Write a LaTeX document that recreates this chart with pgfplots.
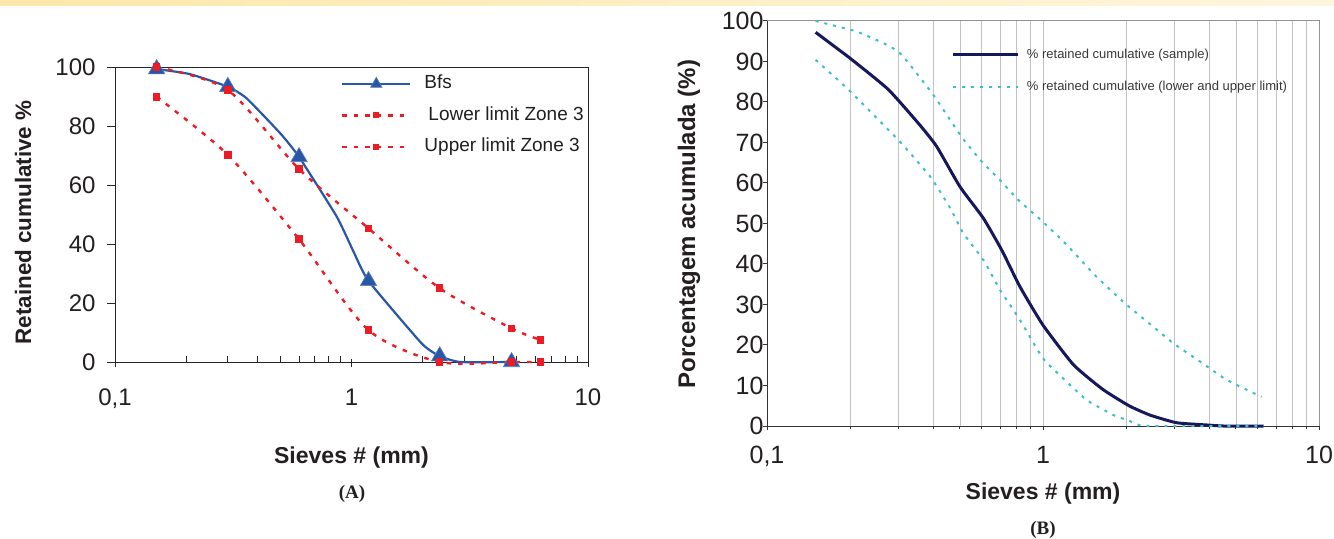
\documentclass[border=0pt]{standalone}
\usepackage{fontspec}
\setmainfont{Liberation Sans}
\newfontfamily\serifb{Liberation Serif}
\usepackage{pgfplots}
\pgfplotsset{compat=1.18}
\definecolor{bfsblue}{RGB}{40,86,168}
\definecolor{limred}{RGB}{237,28,36}
\definecolor{navy}{RGB}{22,24,92}
\definecolor{cyanl}{RGB}{60,192,200}
\definecolor{txt}{RGB}{35,31,32}
\definecolor{bandL}{RGB}{253,231,170}
\definecolor{bandR}{RGB}{255,246,222}
\definecolor{gridc}{RGB}{195,195,195}
\begin{document}
\begin{tikzpicture}
\path[use as bounding box, fill=white] (0bp,0bp) rectangle (1334bp,539bp);
\shade[left color=bandL, right color=bandR] (0bp,533bp) rectangle (1334bp,539bp);

% ---------------- (A) ----------------
\begin{axis}[
  at={(115bp,177bp)}, anchor=south west,
  scale only axis, width=473bp, height=295bp,
  xmode=log, xmin=0.1, xmax=10, ymin=0, ymax=100,
  clip=false,
  axis line style={draw=black!85, line width=0.9bp},
  xtick={0.1,1,10}, xticklabels={{0,1},1,10},
  minor xtick={0.2,0.3,0.4,0.5,0.6,0.7,0.8,0.9,2,3,4,5,6,7,8,9},
  ytick={0,20,40,60,80,100}, yticklabels={0,20,40,60,80,100},
  tick align=outside, xtick pos=bottom, ytick pos=left,
  major tick length=8bp, minor tick length=6bp,
  tick style={draw=black!85, line width=0.9bp},
  major x tick style={yshift=3bp},
  minor x tick style={yshift=6bp},
  ticklabel style={font=\fontsize{24bp}{28bp}\selectfont, text=txt},
  xticklabel style={yshift=-15bp},
  yticklabel style={xshift=-8bp},
  xlabel={Sieves \# (mm)},
  xlabel style={at={(rel axis cs:0.5,0)}, anchor=center, yshift=-96bp,
    font=\bfseries\fontsize{23bp}{27bp}\selectfont, text=txt},
  ylabel={Retained cumulative \%},
  ylabel style={at={(axis description cs:-0.1945,0.473)}, anchor=center,
    font=\bfseries\fontsize{22.4bp}{26bp}\selectfont, text=txt},
  legend style={draw=none, fill=none, at={(axis description cs:0.478,0.973)}, anchor=north west,
    inner sep=0pt, outer sep=0pt, row sep=13.5bp, column sep=13bp,
    font=\fontsize{19bp}{22bp}\selectfont, text=txt,
    nodes={inner sep=0pt, text height=14bp, text depth=4bp}},
  legend cell align=left,
  legend image code/.code={\draw[#1, mark indices={2}, every mark/.append style={scale=0.7}] plot coordinates {(0bp,0bp) (34bp,0bp) (68bp,0bp)};},
]
\addplot[color=bfsblue, line width=2.2bp, smooth, tension=0.3,
  mark=triangle*, mark size=9.5bp, mark indices={1,3,6,9,11,13},
  mark options={fill=bfsblue, draw=bfsblue!75!white, line width=0.6bp}]
coordinates {(0.15,99.3) (0.207,97.6) (0.3,93.3) (0.36,89.4) (0.5,77.5) (0.6,69.5)
 (0.866,49.3) (1.02,37.4) (1.18,27.5) (1.98,6.3) (2.36,2.0) (2.88,0) (4.75,0)};
\addlegendentry{Bfs}
\addplot[color=limred, line width=2.4bp, dash pattern=on 4.5bp off 7bp, smooth, tension=0.45,
  mark=square*, mark size=2.6bp, mark options={solid, fill=limred}]
coordinates {(0.15,89.9) (0.3,70.2) (0.6,41.6) (1.18,10.8) (2.36,0) (4.75,0) (6.3,0)};
\addlegendentry{\hspace*{4bp}Lower limit Zone 3}
\addplot[color=limred, line width=2.4bp, dash pattern=on 4.5bp off 7bp, smooth, tension=0.45,
  mark=square*, mark size=2.6bp, mark options={solid, fill=limred}]
coordinates {(0.15,100) (0.3,92.2) (0.6,65.4) (1.18,45.3) (2.36,25.0) (4.75,11.4) (6.3,7.5)};
\addlegendentry{Upper limit Zone 3}
\end{axis}
\node[font=\serifb\bfseries\fontsize{19bp}{22bp}\selectfont, text=txt] at (352bp,45.5bp) {(A)};

% ---------------- (B) ----------------
\begin{axis}[
  at={(767bp,113bp)}, anchor=south west,
  scale only axis, width=552bp, height=405bp,
  xmode=log, xmin=0.1, xmax=10, ymin=0, ymax=100,
  clip=false,
  axis line style={draw=black!80, line width=1bp},
  xtick={0.1,1,10}, xticklabels={{0,1},1,10},
  ytick={0,10,20,30,40,50,60,70,80,90,100}, yticklabels={0,10,20,30,40,50,60,70,80,90,100},
  tick align=outside, xtick pos=bottom, ytick pos=left,
  major tick length=4bp,
  tick style={draw=black!80, line width=1bp},
  ticklabel style={font=\fontsize{25bp}{29bp}\selectfont, text=txt},
  xticklabel style={yshift=-13bp},
  yticklabel style={xshift=4bp},
  xlabel={Sieves \# (mm)},
  xlabel style={at={(rel axis cs:0.5,0)}, anchor=center, yshift=-68bp,
    font=\bfseries\fontsize{23bp}{27bp}\selectfont, text=txt},
  ylabel={Porcentagem acumulada (\%)},
  ylabel style={at={(axis description cs:-0.1413,0.4988)}, anchor=center,
    font=\bfseries\fontsize{24bp}{28bp}\selectfont, text=txt},
  legend style={draw=none, fill=none, at={(axis description cs:0.335,0.933)}, anchor=north west,
    inner sep=0pt, outer sep=0pt, row sep=19bp, column sep=7bp,
    font=\fontsize{13bp}{16bp}\selectfont, text=black!78,
    nodes={inner sep=0pt, text height=10bp, text depth=3bp}},
  legend cell align=left,
  legend image code/.code={\draw[#1] (0bp,0bp) -- (65bp,0bp);},
]
\draw[gridc, line width=0.8bp] (axis cs:0.2,0) -- (axis cs:0.2,100);
\draw[gridc, line width=0.8bp] (axis cs:0.3,0) -- (axis cs:0.3,100);
\draw[gridc, line width=0.8bp] (axis cs:0.4,0) -- (axis cs:0.4,100);
\draw[gridc, line width=0.8bp] (axis cs:0.5,0) -- (axis cs:0.5,100);
\draw[gridc, line width=0.8bp] (axis cs:0.6,0) -- (axis cs:0.6,100);
\draw[gridc, line width=0.8bp] (axis cs:0.7,0) -- (axis cs:0.7,100);
\draw[gridc, line width=0.8bp] (axis cs:0.8,0) -- (axis cs:0.8,100);
\draw[gridc, line width=0.8bp] (axis cs:0.9,0) -- (axis cs:0.9,100);
\draw[gridc, line width=0.8bp] (axis cs:1,0) -- (axis cs:1,100);
\draw[gridc, line width=0.8bp] (axis cs:2,0) -- (axis cs:2,100);
\draw[gridc, line width=0.8bp] (axis cs:3,0) -- (axis cs:3,100);
\draw[gridc, line width=0.8bp] (axis cs:4,0) -- (axis cs:4,100);
\draw[gridc, line width=0.8bp] (axis cs:5,0) -- (axis cs:5,100);
\draw[gridc, line width=0.8bp] (axis cs:6,0) -- (axis cs:6,100);
\draw[gridc, line width=0.8bp] (axis cs:7,0) -- (axis cs:7,100);
\draw[gridc, line width=0.8bp] (axis cs:8,0) -- (axis cs:8,100);
\draw[gridc, line width=0.8bp] (axis cs:9,0) -- (axis cs:9,100);
\draw[gray!85, line width=1bp] (axis cs:0.1,100) -- (axis cs:10,100) -- (axis cs:10,0);
\addplot[color=navy, line width=3bp, smooth, tension=0.3]
coordinates {(0.15,97.2) (0.2,90.8) (0.275,83.1) (0.358,74.3) (0.412,69.0) (0.5,59.1)
 (0.608,51.3) (0.708,43.5) (0.825,34.4) (1.0,24.9) (1.29,15.1) (1.65,9.0) (2.05,5.0)
 (2.44,2.7) (3.05,0.8) (4.03,0.2) (4.5,0) (6.3,0)};
\addlegendentry{\% retained cumulative (sample)}
\addplot[color=cyanl, line width=2bp, dash pattern=on 3bp off 6bp, smooth, tension=0.3]
coordinates {(0.15,100) (0.211,97.4) (0.272,94.1) (0.308,91.6) (0.401,81.7) (0.507,71.4)
 (0.6,65.3) (0.699,60.7) (0.814,55.8) (1.0,50.4) (1.22,44.7) (1.56,36.9) (1.98,30.3)
 (2.38,25.8) (2.97,20.4) (3.71,15.9) (4.63,11.4) (6.19,7.2)};
\addlegendentry{\% retained cumulative (lower and upper limit)}
\addplot[color=cyanl, line width=2bp, dash pattern=on 3bp off 6bp, smooth, tension=0.3, forget plot]
coordinates {(0.15,90.4) (0.195,83.4) (0.25,76.0) (0.303,70.2) (0.39,61.6) (0.461,53.8)
 (0.514,47.6) (0.608,41.0) (0.699,33.6) (0.825,26.2) (1.0,16.7) (1.22,10.9) (1.44,6.4)
 (1.8,2.7) (2.07,1.2) (2.38,0) (6.3,0)};
\end{axis}
\node[font=\serifb\bfseries\fontsize{19bp}{22bp}\selectfont, text=txt] at (1043bp,9bp) {(B)};
\end{tikzpicture}
\end{document}
